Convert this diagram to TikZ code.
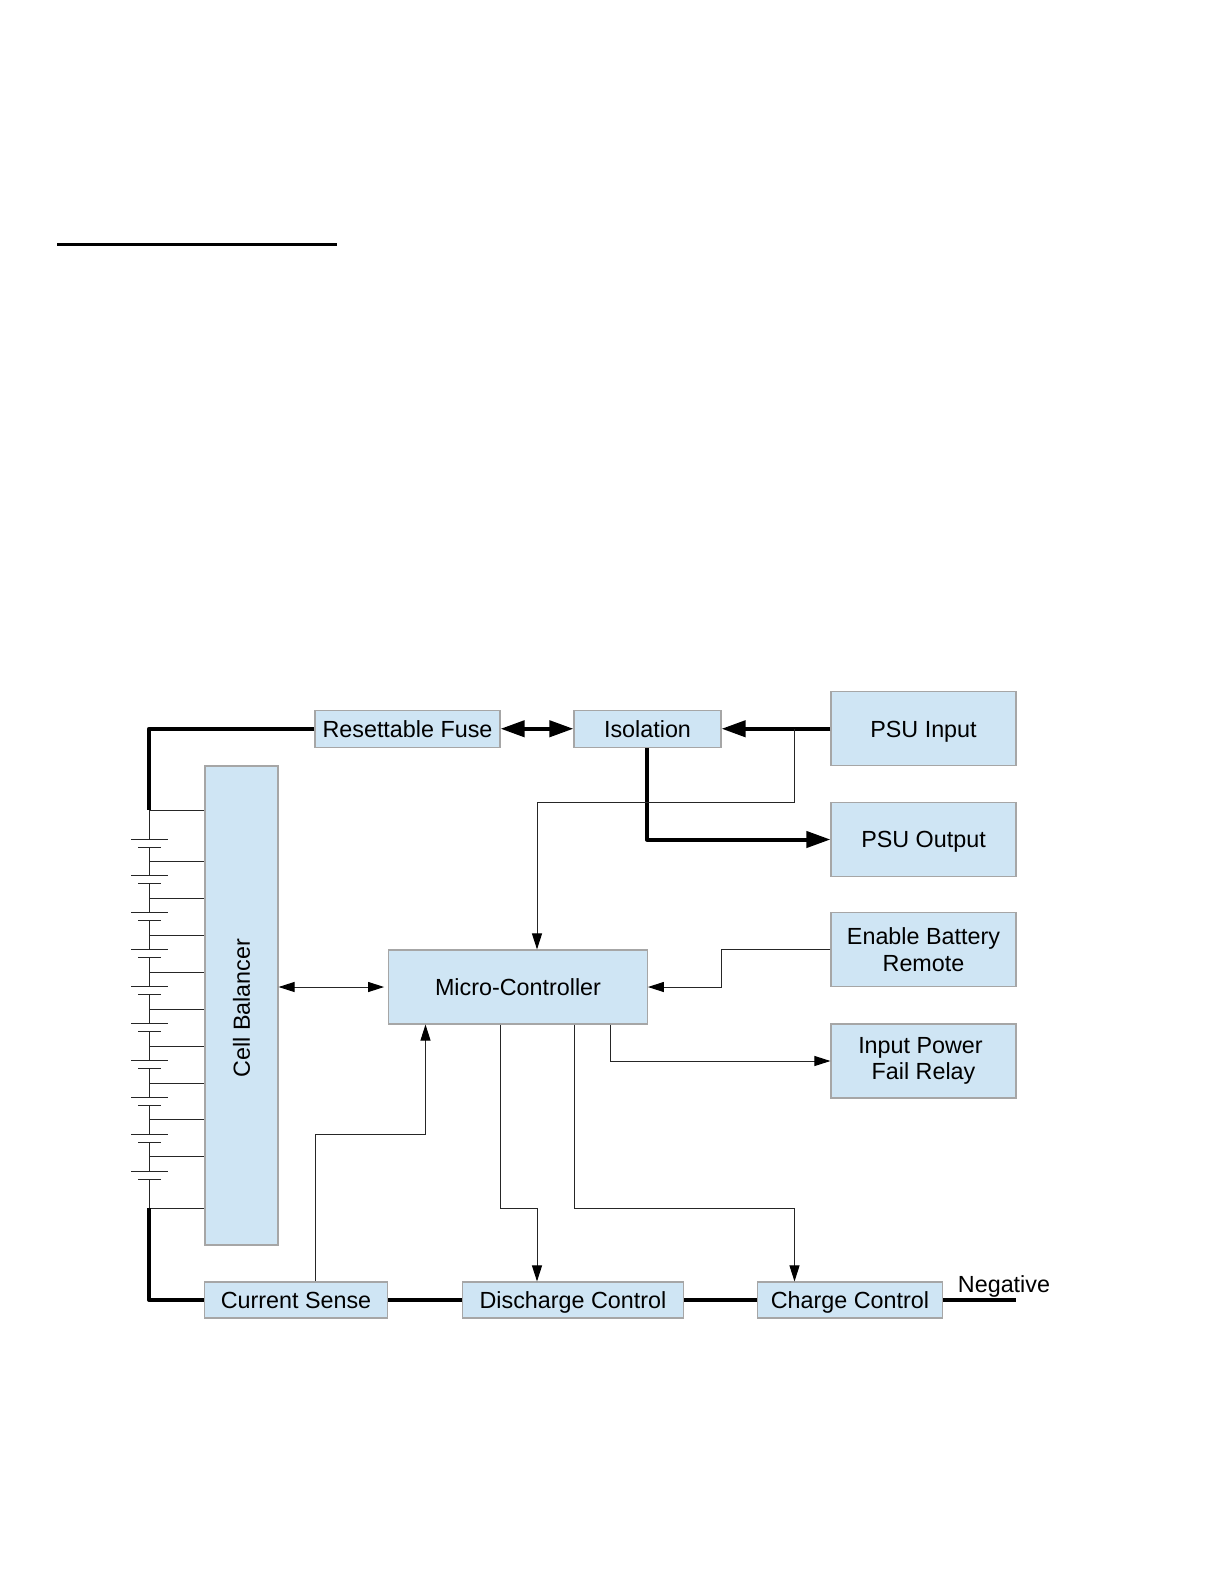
\documentclass[tikz,border=0pt]{standalone}
\usepackage{fontspec}
\setmainfont{Liberation Sans}
\usetikzlibrary{arrows.meta}

\tikzset{
  blockbox/.style={draw=black!35,line width=0.85pt,fill=boxblue,align=center,inner sep=0pt,
    font=\fontsize{17.5}{19.9}\selectfont},
  singleline/.style={text height=12.5pt,text depth=0pt},
  thinwire/.style={line width=0.75pt,draw=black!85},
  powerwire/.style={line width=3pt,draw=black},
  sigtip/.tip={Triangle[length=12pt,width=7.5pt,color=black,fill=black]},
  powertip/.tip={Triangle[length=18pt,width=12pt]}
}
\definecolor{boxblue}{HTML}{CFE5F4}

\begin{document}
\begin{tikzpicture}[x=0.75pt,y=-0.75pt]
      \useasboundingbox (0,0) rectangle (1224,1584);
      % linea superior
      \coordinate (ruleL) at (57,244);
      \coordinate (ruleR) at (337,244);
      \draw[line width=2.25pt] (ruleL) -- (ruleR);
      % bloques
      \node[blockbox,singleline,minimum width=138.75pt,minimum height=27.75pt] (fuse) at (407.5,728.75) {Resettable Fuse};
      \node[blockbox,singleline,minimum width=110.25pt,minimum height=27.75pt] (isolation) at (647.5,728.75) {Isolation};
      \node[blockbox,singleline,minimum width=138.75pt,minimum height=55.5pt] (psuin) at (923.5,728.75) {PSU Input};
      \node[blockbox,singleline,minimum width=138.75pt,minimum height=55.5pt] (psuout) at (923.5,839.5) {PSU Output};
      \node[blockbox,minimum width=138.75pt,minimum height=55.5pt] (enable) at (923.5,949.5) {Enable Battery\\Remote};
      \node[blockbox,minimum width=138.75pt,minimum height=55.5pt] (relay) at (923.5,1061) {Input Power\hspace*{4.5pt}\\Fail Relay};
      \node[blockbox,singleline,minimum width=194pt,minimum height=55.5pt] (micro) at (518,987) {Micro-Controller};
      \node[blockbox,minimum width=54.75pt,minimum height=359.25pt] (balancer) at (241.5,1005.5) {};
      \node[font=\fontsize{17.5}{19.9}\selectfont,rotate=90] (balancertext) at (241.5,1008) {Cell Balancer};
      \node[blockbox,singleline,minimum width=137.25pt,minimum height=27pt] (sense) at (296,1300) {Current Sense};
      \node[blockbox,singleline,minimum width=165.75pt,minimum height=27pt] (discharge) at (573,1300) {Discharge Control};
      \node[blockbox,singleline,minimum width=138.75pt,minimum height=27pt] (charge) at (850,1300) {Charge Control};
      \node[singleline,font=\fontsize{17.5}{19.9}\selectfont] (negative) at (1004,1284) {Negative};
      % celdas de la bateria
      \coordinate (busT) at (149,810);
      \coordinate (busB) at (149,1208);
      \coordinate (neg) at (1016,1300);
      \foreach \y in {839,875.9,912.8,949.7,986.6,1023.5,1060.4,1097.3,1134.2,1171.1}{
        \draw[thinwire] (131,\y) -- (168,\y);
        \draw[thinwire] (138,\y+8) -- (161,\y+8);
      }
      \foreach \ya/\yb in {810/839,847/875.9,883.9/912.8,920.8/949.7,957.7/986.6,994.6/1023.5,1031.5/1060.4,1068.4/1097.3,1105.3/1134.2,1142.2/1171.1,1179.1/1208}
        \draw[thinwire] (149,\ya) -- (149,\yb);
      % tomas hacia el balanceador
      \foreach \y in {810,861.5,898.5,935.5,972.5,1009,1046,1083,1119.7,1156.5,1208}
        \draw[thinwire] (149,\y) -- (balancer.west |- 149,\y);
      % potencia
      \draw[powerwire,line join=round] (fuse.west) -| (busT);
      \draw[powerwire,line join=round] (busB) |- (sense.west);
      \draw[powerwire] (sense) -- (discharge);
      \draw[powerwire] (discharge) -- (charge);
      \draw[powerwire] (charge) -- (neg);
      \draw[powerwire,{powertip}-{powertip}] (fuse) -- (isolation);
      \draw[powerwire,-{powertip}] (psuin) -- (isolation);
      \draw[powerwire,line join=round,-{powertip}] ([xshift=-0.6pt]isolation.south) |- (psuout.west);
      % control
      \draw[thinwire,-{sigtip}] (794.5,729) |- (537,802.5) -- (micro.north -| 537,0);
      \draw[thinwire,{sigtip}-{sigtip},shorten >=3pt] (balancer.east |- micro.west) -- (micro.west);
      \draw[thinwire,-{sigtip}] (enable.west) -| (721,987) -- (micro.east);
      \draw[thinwire,-{sigtip}] (micro.south -| 610,0) |- (relay.west);
      \draw[thinwire,-{sigtip}] (micro.south -| 500,0) |- (537,1208) -- (discharge.north -| 537,0);
      \draw[thinwire,-{sigtip}] (micro.south -| 574,0) |- (794.5,1208) -- (charge.north -| 794.5,0);
      \draw[thinwire,-{sigtip}] (sense.north -| 315,0) |- (425.5,1134) -- (micro.south -| 425.5,0);
    \end{tikzpicture}
\end{document}
